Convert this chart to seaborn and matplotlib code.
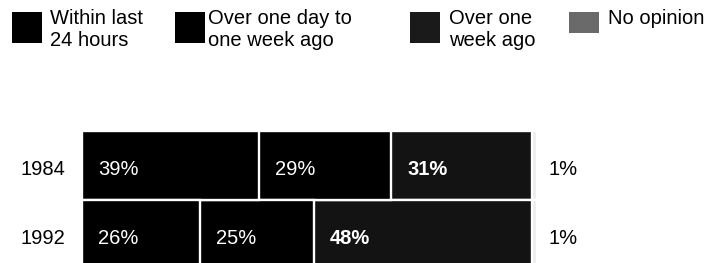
import numpy as np
import pandas as pd
import seaborn as sns
import matplotlib.pyplot as plt
from matplotlib.patches import Rectangle

years = ["1984", "1992"]
within_24h = [39, 26]
day_to_week = [29, 25]
over_week = [31, 48]
no_opinion = [1, 1]

labels = ["Within last\n24 hours", "Over one day to\none week ago", "Over one\nweek ago", "No opinion"]
seg_colors = ["#000000", "#000000", "#131313", "#ececec"]
legend_colors = ["#000000", "#000000", "#1a1a1a", "#6a6a6a"]

df = pd.DataFrame({
    "year": years,
    "within": within_24h,
    "week": day_to_week,
    "over": over_week,
    "none": no_opinion,
})
cols = ["within", "week", "over", "none"]
cum = df[cols].cumsum(axis=1)

sns.set_style("white")
plt.rcParams["font.family"] = ["Liberation Sans", "DejaVu Sans"]

W, H = 724, 263
fig = plt.figure(figsize=(W / 100, H / 100), dpi=100)


def fx(px):
    return px / W


def fy(py):
    return (H - py) / H


# bar axes: x 0..100 maps to 82..537 px, row 0 centred at 165.5 px, rows 69 px apart
ax = fig.add_axes([fx(82), 0, (537 - 82) / W, (H - 131) / H])

# stacked bars drawn as overlapping cumulative totals, longest first
for i in reversed(range(len(cols))):
    sns.barplot(x=cum[cols[i]], y=df["year"], orient="h", color=seg_colors[i],
                width=1.0, edgecolor="white", linewidth=1.7, ax=ax, saturation=1)

ax.set_xlim(0, 100)
ax.set_ylim(1.413, -0.5)
ax.axis("off")

fs = 14.5
for r, yr in enumerate(years):
    yt = r + 0.06
    ax.text(-17 / 4.55, yt, yr, ha="right", va="center", fontsize=fs, color="black")
    left = 0
    for i, c in enumerate(cols[:3]):
        v = df.loc[r, c]
        ax.text(left + 3.5, yt, f"{v}%", ha="left", va="center", fontsize=fs,
                color="white", fontweight="bold" if c == "over" else "normal")
        left += v
    ax.text(102.6, yt, f"{df.loc[r, 'none']}%", ha="left", va="center",
            fontsize=fs, color="black")

# legend
sq_x = [12, 175, 410, 569]
txt_x = [50, 208, 449, 608]
sq_h = [31, 31, 31, 21]
for i in range(4):
    fig.add_artist(Rectangle((fx(sq_x[i]), fy(12 + sq_h[i])), 30 / W, sq_h[i] / H,
                             transform=fig.transFigure, facecolor=legend_colors[i],
                             edgecolor="none"))
    fig.text(fx(txt_x[i]), fy(9), labels[i], ha="left", va="top", fontsize=fs,
             linespacing=1.18, color="black")

fig.savefig("out.png", dpi=100)
